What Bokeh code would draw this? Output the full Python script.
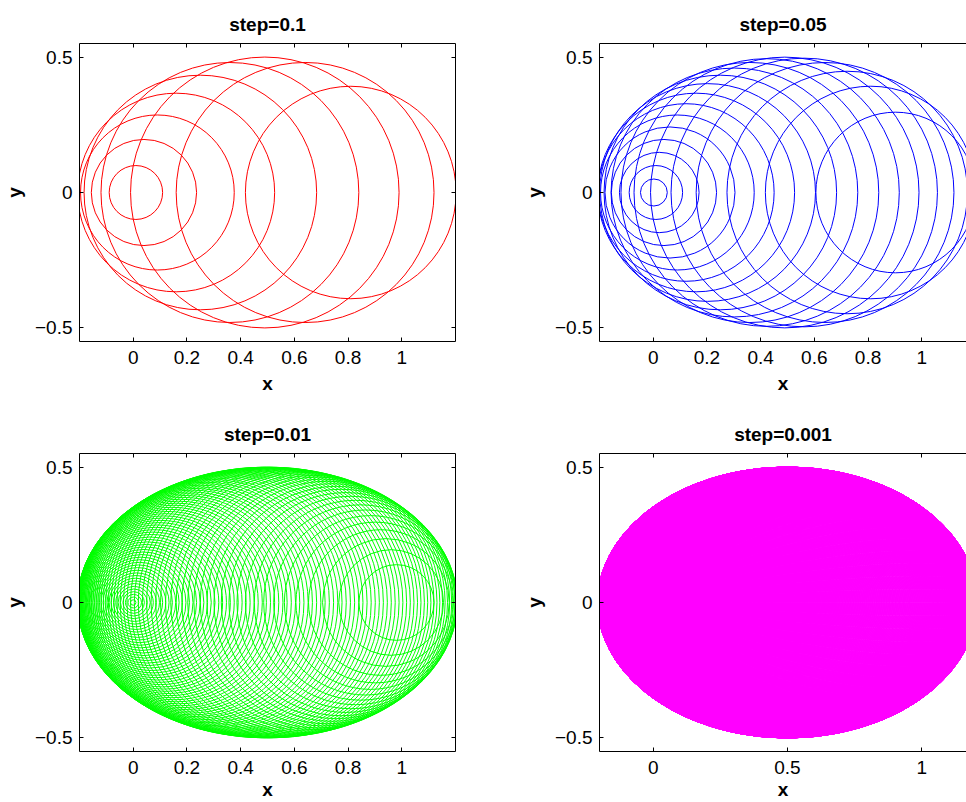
import numpy as np
from bokeh.plotting import figure
from bokeh.layouts import column, row
from bokeh.models import LinearAxis, FixedTicker, Range1d, ColumnDataSource, CustomJSTickFormatter
from bokeh.embed import file_html
from bokeh.resources import INLINE

# ---- data ----
steps = [0.1, 0.05, 0.01, 0.001]
titles = ["step=0.1", "step=0.05", "step=0.01", "step=0.001"]
colors = ["#ff0000", "#0000ff", "#00ff00", "#ff00ff"]
x_ticks = [
    [0, 0.2, 0.4, 0.6, 0.8, 1],
    [0, 0.2, 0.4, 0.6, 0.8, 1],
    [0, 0.2, 0.4, 0.6, 0.8, 1],
    [0, 0.5, 1],
]
y_ticks = [-0.5, 0, 0.5]
x_lim = [-0.2, 1.2]
y_lim = [-0.55, 0.55]

FONT = "Liberation Sans"
FS = "19px"


def circle_family(step):
    # parameter t runs over 0:step:1 ; circle centre (t^2, 0), radius t*sqrt(1-t^2)
    n = int(round(1 / step))
    t = np.arange(1, n) * step
    return t ** 2, t * np.sqrt(1 - t ** 2)


def style_axis(ax, labels=True):
    ax.axis_line_color = "black"
    ax.axis_line_width = 1
    ax.major_tick_line_color = "black"
    ax.major_tick_in = 4
    ax.major_tick_out = 0
    ax.minor_tick_in = 0
    ax.minor_tick_out = 0
    if labels:
        ax.formatter = CustomJSTickFormatter(code="return String(tick).replace('-', '\u2212');")
        ax.major_label_text_font = FONT
        ax.major_label_text_font_size = FS
        ax.major_label_text_color = "black"
        ax.axis_label_text_font = FONT
        ax.axis_label_text_font_size = FS
        ax.axis_label_text_font_style = "bold"
        ax.axis_label_text_color = "black"
    else:
        ax.formatter = CustomJSTickFormatter(code="return '';")
        ax.major_label_text_font_size = "0px"
        ax.major_label_standoff = 0


def make(i, w, h, bl, br, bt, bb, xend, has_right, xlab_standoff):
    p = figure(width=w, height=h, x_range=Range1d(x_lim[0], xend), y_range=Range1d(*y_lim),
               output_backend="svg", toolbar_location=None,
               x_axis_location=None, y_axis_location=None,
               min_border_left=bl, min_border_right=br, min_border_top=bt, min_border_bottom=bb,
               outline_line_color=None, background_fill_color="white", border_fill_color="white")
    p.grid.visible = False

    xb = LinearAxis(ticker=FixedTicker(ticks=x_ticks[i], minor_ticks=[]), axis_label="x")
    style_axis(xb)
    xb.major_label_standoff = 9
    xb.axis_label_standoff = xlab_standoff
    p.add_layout(xb, "below")

    yl = LinearAxis(ticker=FixedTicker(ticks=y_ticks, minor_ticks=[]), axis_label="y")
    style_axis(yl)
    yl.major_label_standoff = 7
    yl.axis_label_standoff = 7
    p.add_layout(yl, "left")

    xa = LinearAxis(ticker=FixedTicker(ticks=x_ticks[i], minor_ticks=[]))
    style_axis(xa, labels=False)
    p.add_layout(xa, "above")

    if has_right:
        yr = LinearAxis(ticker=FixedTicker(ticks=y_ticks, minor_ticks=[]))
        style_axis(yr, labels=False)
        p.add_layout(yr, "right")

    p.title.text = titles[i]
    p.title.align = "center"
    p.title.text_font = FONT
    p.title.text_font_size = FS
    p.title.text_font_style = "bold"
    p.title.text_color = "black"
    p.title.standoff = 17

    cx, r = circle_family(steps[i])
    src = ColumnDataSource(dict(x=cx, y=np.zeros_like(cx), d=2 * r))
    p.ellipse(x="x", y="y", width="d", height="d", source=src,
              fill_color=None, line_color=colors[i], line_width=1)
    return p


xend_right = -0.2 + 370 * 1.4 / 379

p1 = make(0, 520, 400, 76, 65, 43, 59, x_lim[1], True, 6)
p2 = make(1, 446, 400, 76, 0, 43, 59, xend_right, False, 6)
p3 = make(2, 520, 402, 76, 65, 53, 51, x_lim[1], True, 2)
p4 = make(3, 446, 402, 76, 0, 53, 51, xend_right, False, 2)

layout = column(row(p1, p2), row(p3, p4))

open("out.html", "w").write(file_html(layout, INLINE))
